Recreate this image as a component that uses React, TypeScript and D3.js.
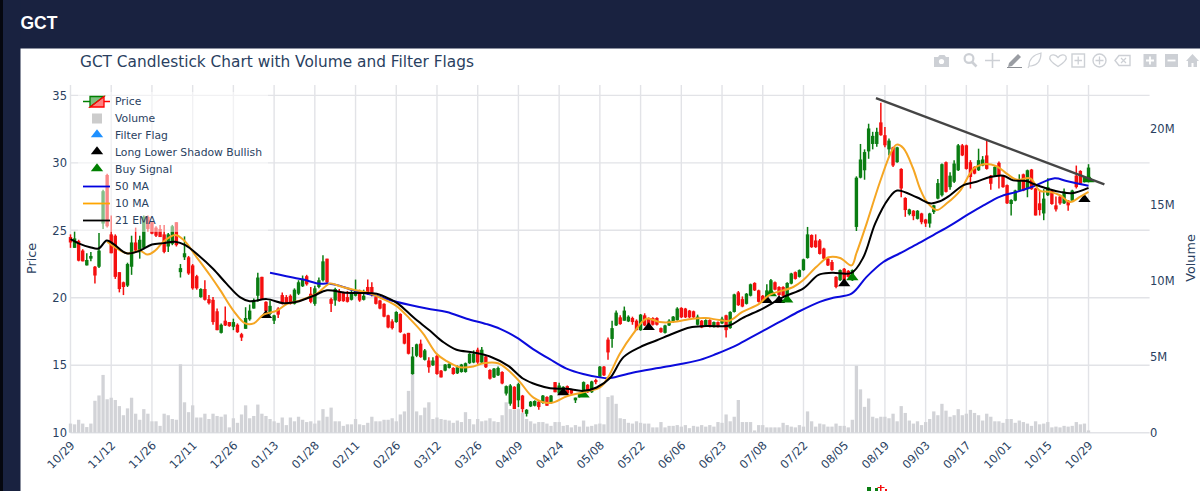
import React, { useEffect, useRef } from 'react';
import * as d3 from 'd3';

const width = 1200;
const height = 491;
const fontFamily = '"DejaVu Sans", verdana, arial, sans-serif';
const textColor = '#2a3f5f';
const gridColor = '#e2e3e7';

// tick labels, one every 10 sessions
const tickLabels = ['10/29', '11/12', '11/26', '12/11', '12/26', '01/13', '01/28', '02/11', '02/26', '03/12', '03/26', '04/09', '04/24', '05/08', '05/22', '06/06', '06/23', '07/08', '07/22', '08/05', '08/19', '09/03', '09/17', '10/01', '10/15', '10/29'];
const priceTicks = [10, 15, 20, 25, 30, 35];
const volumeTicks = [0, 5, 10, 15, 20];

// session by session
const opens = [
  24.5, 23.7, 24.2, 23.5, 22.4, 22.9, 22.3, 22.3, 25.5, 29.1,
  24.7, 24.6, 21.9, 21.15, 20.9, 22.3, 24.1, 23.5, 23.7, 26,
  25.6, 25.2, 25.1, 24.7, 23.8, 24, 25.6, 21.9, 23, 23,
  22.4, 21.6, 20.05, 20.65, 19.9, 19.85, 19, 17.4, 18.3, 18.2,
  17.85, 18, 17.3, 17.7, 18.4, 19.2, 20.15, 21.55, 19.7, 18.8,
  18.3, 19.2, 20.2, 20.05, 20.15, 19.55, 20.3, 20.85, 21.6, 20.3,
  19.55, 20.8, 21.3, 22.9, 19.9, 19.8, 20.5, 20.4, 20.05, 19.85,
  20.15, 20.3, 19.85, 20.8, 20.8, 20.05, 19.8, 19.55, 18.7, 18.25,
  18.2, 18.8, 17.3, 17.4, 14.35, 15.7, 16.6, 15.4, 15.35, 15,
  15.7, 14.6, 14.6, 14.8, 14.8, 14.4, 14.5, 14.5, 15.15, 15.2,
  16.15, 15.2, 15.65, 14.65, 14.1, 14.25, 14.5, 12.9, 12.15, 13.4,
  12.4, 12.75, 11.4, 11.95, 12, 12.3, 12.2, 12.65, 12.2, 13.75,
  12.9, 12.85, 13.45, 13.2, 12.4, 12.65, 12.75, 13.55, 13, 13.9,
  14.15, 14.9, 16.9, 16.95, 17.95, 18.55, 18.3, 18.25, 18.5, 18.3,
  17.6, 18.7, 18.5, 18.5, 18.5, 17.75, 17.4, 17.95, 18.2, 18.35,
  19.25, 19.2, 19.05, 19, 18, 18.3, 17.95, 18.35, 17.85, 18.2,
  18.1, 18.7, 17.75, 18.95, 20.4, 19.9, 19.55, 20.15, 21.1, 20.55,
  20.15, 20.05, 20.4, 21.15, 20.8, 20.8, 19.9, 21.05, 21.9, 21.55,
  22.05, 22.95, 24.65, 24.25, 24.25, 23.65, 22.9, 22.65, 21.55, 21.3,
  22.15, 22, 21.3, 25.25, 28.9, 29.45, 30.85, 31.4, 31.4, 33,
  32.05, 31, 31.15, 30.05, 29.55, 27.4, 26.2, 26.45, 25.85, 26.25,
  25.8, 25.5, 26.35, 27.35, 27.6, 30.05, 28.2, 28.6, 29.45, 31.3,
  31.3, 30.05, 29.7, 29.45, 29.8, 30.55, 29.05, 29.05, 30, 29.05,
  28.35, 26.95, 27.2, 27.95, 29.15, 28.05, 29.5, 28.1, 27, 26.25,
  27.6, 27.95, 26.85, 27.5, 27, 27.2, 27.2, 29.05, 29.4, 28.6, 28.6,
];
const closes = [
  24.1, 24.4, 22.75, 22.7, 22.8, 23.1, 21.65, 23.5, 27.9, 25.3,
  23.3, 21.55, 20.65, 20.8, 22.5, 24.1, 23.5, 24.3, 26, 25.1,
  24.75, 24.6, 24.5, 23.4, 24.7, 25.3, 23.9, 22.2, 23.3, 21.8,
  20.7, 20.7, 20.65, 19.85, 19.6, 18.2, 17.6, 18, 17.95, 17.9,
  18.2, 17.45, 17.05, 18.5, 19.05, 19.7, 21.5, 19.9, 19, 19.4,
  18.7, 18.75, 19.55, 19.55, 19.55, 20.6, 21.15, 21.4, 21, 19.7,
  20.7, 21.3, 22.7, 21.15, 19.55, 20.65, 19.75, 19.75, 19.7, 20.4,
  20.55, 19.8, 20.15, 20.3, 20.4, 19.55, 19.2, 18.6, 17.8, 17.75,
  18.95, 17.45, 16.6, 15.85, 15.65, 16.55, 15.6, 16.1, 14.85, 15.35,
  14.35, 14.1, 15.05, 15.1, 14.35, 14.85, 15.05, 15.15, 15.85, 15.85,
  15.2, 16.15, 14.85, 14, 14.75, 14.8, 13.65, 13.45, 13.5, 11.75,
  13.6, 11.75, 11.7, 12.3, 12.35, 11.9, 12.75, 12, 12.75, 13,
  13.5, 13.4, 12.9, 12.9, 12.6, 12.9, 13.75, 13, 13.8, 13.75,
  14.9, 14.25, 15.95, 17.75, 18.9, 18.05, 19.05, 18.6, 18.2, 17.6,
  18.75, 17.95, 18, 18, 18, 17.45, 17.95, 18.3, 18.6, 19.2,
  18.55, 18.55, 18.55, 18.55, 18.6, 17.8, 18.35, 17.85, 18.2, 17.85,
  18.45, 17.6, 18.95, 20.25, 19.45, 19.35, 20.3, 21, 20.55, 19.7,
  19.7, 20.55, 21.3, 20.6, 20.2, 20.15, 21.1, 21.8, 21.4, 22.05,
  22.85, 24.7, 23.75, 23.75, 23.25, 22.9, 22.4, 22.05, 20.8, 22.05,
  21.3, 21.55, 22.05, 28.9, 30.25, 30.8, 32.55, 32, 32.3, 32.05,
  31.3, 31.65, 29.8, 31.15, 28.1, 26.5, 26.55, 26.05, 26.45, 25.6,
  25.5, 26.25, 26.85, 28.5, 29.9, 27.85, 29.05, 29.95, 31.3, 30.55,
  29.55, 28.95, 29.2, 30.2, 30.25, 29.55, 28.45, 29.7, 29.05, 28.2,
  27, 27.25, 27.95, 28.65, 27.95, 29.45, 28.05, 26.1, 26.5, 27.35,
  28.2, 26.95, 26.55, 27, 27.85, 26.85, 27.95, 28.2, 28.45, 28.95, 29.65,
];
const highs = [
  24.7, 24.9, 24.3, 23.6, 23.3, 23.4, 22.35, 24.8, 28, 29.2,
  26.1, 24.7, 21.9, 21.2, 22.6, 24.6, 25.2, 24.6, 26.1, 26.1,
  25.65, 25.3, 25.4, 25.4, 24.8, 25.4, 25.6, 22.5, 24.55, 23.1,
  22.5, 21.7, 20.7, 21.3, 20.2, 20.05, 19.2, 18.1, 19.35, 18.2,
  18.45, 18.1, 17.4, 19.3, 19.5, 19.95, 21.85, 21.55, 19.75, 19.8,
  18.75, 19.3, 20.4, 20.2, 20.25, 20.7, 21.3, 21.65, 21.7, 20.8,
  20.9, 21.5, 23.15, 22.9, 20, 20.75, 20.65, 20.45, 20.5, 20.6,
  21.35, 20.6, 20.6, 21.35, 21.15, 20.1, 19.85, 19.6, 18.75, 18.4,
  19, 18.85, 17.35, 17.4, 16.35, 16.6, 16.9, 16.2, 15.6, 15.6,
  15.75, 14.65, 15.1, 15.15, 14.85, 15, 15.1, 15.2, 15.9, 16.1,
  16.3, 16.35, 15.7, 14.7, 14.8, 14.9, 14.55, 13.5, 13.6, 13.45,
  13.7, 12.8, 11.75, 12.35, 12.4, 12.4, 12.8, 12.7, 12.8, 13.75,
  13.7, 13.45, 13.5, 13.25, 12.6, 12.95, 13.8, 13.6, 13.85, 14,
  14.95, 14.95, 17.05, 18.3, 19.05, 18.7, 19.35, 18.7, 18.6, 18.4,
  18.8, 18.85, 18.55, 18.55, 18.55, 17.8, 18, 18.4, 18.65, 19.3,
  19.3, 19.25, 19.1, 19.05, 18.75, 18.35, 18.4, 18.4, 18.25, 18.25,
  18.6, 18.75, 19, 20.3, 20.5, 20.1, 20.35, 21.05, 21.15, 20.6,
  20.2, 21, 21.4, 21.2, 20.85, 20.85, 21.15, 21.85, 21.95, 22.1,
  22.9, 25.25, 24.7, 24.7, 24.35, 23.7, 23, 22.8, 21.6, 22.1,
  22.2, 22.05, 22.1, 29, 31.4, 31, 32.9, 32.3, 32.6, 34.45,
  32.65, 31.8, 31.2, 31.2, 29.6, 27.45, 26.6, 26.5, 26.5, 26.3,
  25.85, 26.3, 26.9, 28.8, 29.95, 30.1, 29.3, 30.2, 31.4, 31.4,
  31.35, 30.2, 29.75, 31.05, 30.5, 31.7, 29.1, 29.75, 30.1, 29.1,
  28.4, 27.3, 28, 29.15, 29.2, 29.5, 29.55, 28.15, 28, 28.05,
  28.85, 28, 27.5, 27.55, 28.1, 27.25, 28, 29.8, 29.45, 29, 29.9,
];
const lows = [
  23.7, 23.7, 22.7, 22.7, 22.4, 22.7, 21.05, 22.2, 25.1, 25.2,
  23.3, 21.4, 20.4, 20.2, 20.8, 21.7, 23.4, 22.9, 23.6, 24.9,
  24.7, 24.5, 24.5, 23.3, 23.4, 23.9, 23.8, 21.5, 22.8, 21.7,
  20.6, 20.6, 20, 19.8, 19.5, 18, 17.6, 17.35, 17.9, 17.85,
  17.6, 17.4, 16.8, 17.7, 18.3, 19.2, 19.7, 19.9, 18.7, 18.7,
  18.05, 18.5, 19.5, 19.5, 19.5, 19.5, 20.2, 20.8, 20.9, 19.6,
  19.4, 20.7, 21.2, 21.1, 18.95, 19.4, 19.7, 19.7, 19.65, 19.8,
  20.1, 19.7, 19.8, 20.2, 20.1, 19.5, 19.15, 18.55, 17.75, 17.65,
  18.15, 17.4, 16.55, 15.8, 14.3, 15.6, 15.55, 15.35, 14.45, 14.95,
  14.3, 14.1, 14.55, 14.75, 14.3, 14.35, 14.45, 14.45, 15.1, 15.15,
  15.1, 15.15, 14.8, 13.95, 14.05, 14.2, 13.6, 12.75, 12, 11.75,
  11.9, 11.5, 11.2, 11.9, 11.95, 11.7, 12.15, 12, 12.15, 13,
  12.85, 12.8, 12.85, 12.85, 12.2, 12.6, 12.7, 12.95, 12.95, 13.6,
  14.1, 14.2, 15.4, 16.3, 17.9, 18, 18.3, 18.2, 18, 17.6,
  17.55, 17.9, 17.95, 17.95, 17.95, 17.4, 17.35, 17.9, 18.15, 18.3,
  18.5, 18.5, 18.5, 18.5, 17.95, 17.75, 17.9, 17.8, 17.8, 17.8,
  18.05, 17.05, 17.7, 18.9, 19.4, 19.3, 19.5, 20.1, 20.5, 19.65,
  19.65, 20, 20.35, 20.55, 20.15, 20.1, 19.85, 21, 21.35, 21.5,
  22, 22.9, 23.7, 23.7, 23.2, 22.85, 22.35, 22, 20.7, 21.25,
  21.25, 21.5, 21.25, 24.95, 28.85, 28.75, 30.3, 31, 31.2, 32,
  31.15, 30.55, 29.7, 30, 27.45, 26, 26.1, 25.75, 25.8, 25.45,
  25.25, 25.2, 26.2, 27.3, 27.5, 27.8, 28, 28.5, 29.4, 30.5,
  29.5, 28.1, 29.15, 29.4, 29.75, 29.5, 28, 29, 28.1, 28.15,
  26.95, 26.1, 27.15, 27.9, 27.9, 27.45, 28, 26.1, 26.1, 25.75,
  27.55, 26.9, 26.4, 26.9, 26.95, 26.45, 27.15, 28.1, 28.4, 28.55, 28.55,
];
// millions of shares
const volumes = [
  0.6, 0.55, 0.85, 0.6, 0.37, 0.6, 2.1, 2.45, 3.8, 2.2,
  2.3, 2.15, 1.75, 1.15, 1.6, 2.3, 1.25, 0.85, 1.55, 1.25,
  0.75, 0.75, 0.45, 1.25, 1.15, 0.9, 0.85, 4.5, 2, 1.35,
  1.8, 1, 1, 1.25, 0.9, 1.25, 1.1, 1.05, 1.2, 0.35,
  0.95, 0.65, 1.2, 1.8, 0.95, 1.1, 1.85, 1.25, 1.1, 0.9,
  0.75, 0.65, 1, 0.5, 1, 0.75, 1.05, 0.85, 0.7, 0.75,
  0.6, 0.8, 1.55, 1.05, 1.65, 0.75, 0.75, 0.45, 0.55, 0.55,
  0.9, 0.55, 0.5, 0.65, 1.05, 0.75, 0.75, 0.85, 0.85, 0.95,
  0.75, 1.2, 1.4, 2.75, 3.95, 1.4, 1.15, 1.65, 2, 0.9,
  1, 0.9, 0.85, 0.8, 0.65, 0.8, 0.7, 1.35, 0.9, 0.55,
  0.9, 0.75, 0.8, 0.95, 0.75, 0.7, 1.15, 2, 1.55, 1.5,
  1.55, 1.3, 0.9, 0.75, 0.6, 0.7, 0.7, 0.6, 0.45, 0.7,
  0.7, 0.45, 0.5, 0.35, 0.5, 0.4, 0.8, 0.4, 0.45, 0.55,
  0.6, 0.55, 2.35, 2.45, 1.9, 0.95, 0.9, 0.65, 0.6, 0.75,
  0.65, 0.6, 0.6, 0.35, 0.35, 0.7, 0.35, 0.45, 0.45, 0.5,
  0.4, 0.5, 0.3, 0.45, 0.4, 0.5, 0.4, 0.5, 0.4, 0.7,
  0.65, 1.2, 0.75, 1.05, 2.15, 0.7, 0.7, 0.7, 0.15, 0.5,
  0.5, 0.35, 0.35, 0.35, 0.35, 0.65, 0.5, 0.4, 0.35, 0.5,
  0.4, 1.4, 0.75, 0.4, 0.6, 0.55, 0.4, 0.4, 0.6, 0.45,
  0.45, 0.35, 0.85, 4.4, 2.85, 1.7, 2.25, 1.05, 0.95, 1.05,
  1.05, 0.95, 1.25, 0.75, 1.75, 1.3, 0.8, 0.6, 0.75, 0.5,
  0.7, 0.9, 1.4, 1.15, 1.9, 1.45, 1.05, 1.15, 1.55, 1.15,
  1.25, 1.5, 1.3, 1.15, 0.8, 1.25, 1.05, 0.75, 0.75, 0.65,
  0.9, 0.9, 0.65, 0.8, 0.7, 0.6, 0.45, 0.75, 0.55, 0.6,
  0.7, 0.35, 0.4, 0.35, 0.45, 0.4, 0.45, 0.7, 0.55, 0.6, 0.15,
];

// moving averages, read at the session positions where the curve could be seen
const ma50Days = [49, 53, 57.2, 61, 63, 66, 69.5, 75, 80, 87.5, 92.4, 97.3, 102.2, 105.5, 109.6, 113.6, 117.7, 121.8, 125.9, 130, 132.5, 138, 146.4, 154.6, 158.7, 163, 167, 171, 175, 179, 184, 187.3, 191.8, 195.5, 199.6, 203.7, 207.8, 211.9, 216, 220, 224.2, 228.3, 232.4, 236.4, 241.7, 244.6, 250];
const ma50Values = [21.85, 21.6, 21.35, 21.05, 21.05, 20.9, 20.55, 20.15, 19.7, 19.2, 18.95, 18.45, 18.05, 17.7, 17.05, 16.2, 15.45, 14.75, 14.35, 14.1, 14.05, 14.45, 14.9, 15.4, 15.85, 16.4, 17.05, 17.7, 18.35, 19, 19.7, 20, 20.3, 21.55, 22.65, 23.3, 23.95, 24.65, 25.35, 26.1, 26.85, 27.5, 27.85, 28.25, 28.85, 28.65, 28.3];
const ma10Days = [9, 10.9, 13.8, 15.5, 17, 18.9, 20.8, 22.8, 25.7, 27.9, 31, 34.3, 36.8, 40, 42.9, 45, 47.4, 50.7, 53.2, 56.4, 60.5, 63.7, 66.2, 69.5, 72.8, 76.8, 80, 83.3, 86.6, 89.9, 92.4, 95.6, 98.9, 101.4, 105, 108, 110.4, 113.7, 117.8, 121.9, 125.9, 130, 132, 134.9, 138.1, 141.4, 144.7, 147.9, 152.8, 156, 159.3, 161.8, 165, 169.1, 171.6, 177.5, 179.9, 183.2, 186.1, 189, 191.8, 193, 195.5, 198.8, 201.7, 202.9, 204.5, 206.9, 208.6, 210.3, 212.7, 215.2, 218.5, 221.7, 224.2, 227.4, 229.9, 232.4, 235.7, 238, 240.5, 243, 245.5, 248, 250];
const ma10Values = [24.15, 23.75, 23.3, 23.35, 23.5, 23.2, 23.5, 24.15, 24.65, 24.25, 23, 21.65, 20.55, 19.05, 18.1, 18.1, 18.75, 19.05, 19.55, 19.8, 20.3, 21.05, 20.85, 20.6, 20.4, 19.9, 19.4, 18.45, 17.35, 15.85, 15.3, 14.85, 14.9, 15.15, 15.15, 14.5, 13.75, 12.6, 12.2, 12.7, 13, 13.35, 14.1, 15.85, 17.3, 18.45, 18.2, 18.2, 18.45, 18.5, 18.35, 18.3, 18.95, 19.55, 20.2, 20.8, 21.3, 22.3, 23, 22.95, 22.4, 23.3, 25.5, 28.6, 30.9, 31.35, 31.1, 29.6, 28.1, 27.1, 26.5, 27, 27.95, 29.55, 29.9, 29.75, 29.2, 28.75, 28.85, 27.95, 27.85, 27.6, 27.1, 27.5, 27.85];
const ema21Days = [0, 2.3, 4.8, 6.9, 8.9, 10.5, 13.8, 16.7, 20, 22.8, 25.7, 28.2, 31.4, 35, 38.3, 41.6, 44, 48.2, 52.3, 55.6, 59.7, 63, 67, 71.1, 75.2, 78.5, 80.5, 84.2, 88.3, 91.6, 94.8, 98.9, 103, 107.5, 111.2, 114.5, 117.8, 121.9, 125.9, 129.2, 132.5, 135.8, 139.9, 144, 148, 152.1, 156.2, 161.8, 165, 170, 175, 180, 183.7, 187, 191.8, 194.7, 197.6, 200.9, 203, 207.8, 211.1, 213.5, 216, 219.3, 222.5, 225.8, 229.1, 231.5, 234.8, 236.4, 239.7, 243, 245.9, 250];
const ema21Values = [24.35, 24, 23.75, 23.65, 24.25, 24, 23.3, 23.45, 23.95, 24.05, 24.15, 23.9, 23.15, 22.15, 21.05, 20.05, 19.75, 19.9, 19.6, 19.7, 20.15, 20.55, 20.4, 20.35, 20.3, 19.9, 19.55, 18.55, 17.55, 16.7, 16.15, 15.95, 15.65, 14.95, 14, 13.55, 13.3, 13.25, 13.1, 13.35, 14.05, 15.6, 16.35, 16.85, 17.35, 17.8, 17.9, 17.95, 18.5, 19.2, 20.05, 20.7, 21.7, 21.85, 21.85, 23, 25.5, 27.35, 27.95, 27.45, 27, 27.15, 27.6, 28.35, 28.6, 28.95, 29.05, 28.7, 28.65, 28.45, 28.1, 27.85, 27.75, 28.15];

// flags
const shadowDays = [48, 121, 142, 171, 174, 190, 249];
const shadowPrices = [18.7, 12.97, 17.8, 19.8, 19.8, 21.05, 27.3];
const buyDays = [126, 172, 176, 192, 250];
const buyPrices = [12.8, 20.3, 19.85, 21.5, 28.75];

// resistance line drawn by hand on the chart
const trendDays = [197.8, 253.9];
const trendPrices = [34.8, 28.4];

const legendRows = ['Price', 'Volume', 'Filter Flag', 'Long Lower Shadow Bullish', 'Buy Signal', '50 MA', '10 MA', '21 EMA'];

const x = d3.scaleLinear().domain([0, 265]).range([70.5, 1149.6]);
const yPrice = d3.scaleLinear().domain([10, 35.77]).range([432.7, 85]);
const yVolume = d3.scaleLinear().domain([0, 22.87]).range([432.7, 85]);

const drawLine = (svg: any, days: number[], values: number[], color: string, w: number) => {
  const line = d3.line<number>()
    .x((_, i) => x(days[i]))
    .y((d) => yPrice(d))
    .curve(d3.curveCatmullRom.alpha(0.5));
  svg.append('path')
    .attr('d', line(values))
    .attr('fill', 'none')
    .attr('stroke', color)
    .attr('stroke-width', w)
    .attr('stroke-linejoin', 'round');
};

const drawTriangles = (svg: any, days: number[], prices: number[], color: string) => {
  const tri = d3.symbol().type(d3.symbolTriangle).size(50);
  svg.append('g').selectAll('path').data(days).join('path')
    .attr('d', tri)
    .attr('fill', color)
    .attr('transform', (d: number, i: number) => `translate(${x(d)},${yPrice(prices[i])}) scale(1.15,0.85)`);
};

const drawLegend = (svg: any) => {
  const g = svg.append('g');
  g.append('rect').attr('x', 78).attr('y', 92).attr('width', 190).attr('height', 140)
    .attr('fill', '#fff').attr('fill-opacity', 0.5);
  const rowY = (i: number) => 101.5 + i * 17;

  // candle swatch, split into rising and falling halves
  g.append('path').attr('d', 'M83,101.5H90').attr('stroke', 'green').attr('stroke-width', 1.5);
  g.append('path').attr('d', 'M104,101.5H110').attr('stroke', 'red').attr('stroke-width', 1.5);
  g.append('path').attr('d', 'M90,107V96.5H104Z').attr('fill', 'rgba(0,128,0,0.5)').attr('stroke', 'green').attr('stroke-width', 1.3);
  g.append('path').attr('d', 'M90,107H104V96.5Z').attr('fill', 'rgba(255,0,0,0.5)').attr('stroke', 'red').attr('stroke-width', 1.3);

  g.append('rect').attr('x', 92).attr('y', rowY(1) - 5).attr('width', 10).attr('height', 10).attr('fill', '#cccccc');

  const tri = d3.symbol().type(d3.symbolTriangle).size(50);
  [['#1e90ff', 2], ['black', 3], ['green', 4]].forEach(([c, r]) => {
    g.append('path').attr('d', tri).attr('fill', c as string)
      .attr('transform', `translate(97,${rowY(r as number) - 1}) scale(1.15,0.85)`);
  });
  [['#0000e0', 5], ['orange', 6], ['black', 7]].forEach(([c, r]) => {
    const ly = rowY(r as number);
    g.append('path').attr('d', `M83,${ly}H110`).attr('stroke', c as string).attr('stroke-width', 1.8);
  });

  g.selectAll('text').data(legendRows).join('text')
    .attr('x', 115)
    .attr('y', (_: string, i: number) => rowY(i) + 3.7)
    .attr('fill', textColor)
    .attr('font-size', 10.8)
    .attr('font-family', fontFamily)
    .text((d: string) => d);
};

// modebar at the top right, grey and faint
const ModeBar = () => {
  const c = '#cdd0d5';
  return (
    <g fill={c} stroke="none">
      <path d="M934,57h4l1.5,-2h5l1.5,2h3v10h-15z" />
      <circle cx="941.5" cy="61.5" r="2.6" fill="#fff" />
      <circle cx="969" cy="58.5" r="4.4" fill="none" stroke={c} strokeWidth="2.2" />
      <path d="M972,62l4.5,4.5" stroke={c} strokeWidth="2.6" />
      <path d="M985,60.5h15M992.5,53v15" stroke={c} strokeWidth="1.6" />
      <path d="M1009,63l9,-9 3,3 -9,9 -4,1z" fill="#9a9da3" />
      <path d="M1007,67.5h15" stroke="#8a8d93" strokeWidth="1" />
      <path d="M1029,66c0,-6 4,-11 12,-13c0,7 -3,12 -10,13zM1029,66l-1,2" fill="none" stroke={c} strokeWidth="1.2" />
      <path d="M1058,66.5c-8,-5 -9,-8 -8,-10c1.500,-2.500 5.500,-2 8,1c2.500,-3 6.500,-3.500 8,-1c1,2 0,5 -8,10z" fill="none" stroke={c} strokeWidth="1.3" />
      <rect x="1072" y="54" width="12.500" height="13" fill="none" stroke={c} strokeWidth="1.4" />
      <path d="M1078.200,56.500v8M1074.500,60.500h7.500" stroke={c} strokeWidth="1.3" />
      <circle cx="1099.500" cy="60.500" r="6.500" fill="none" stroke={c} strokeWidth="1.4" />
      <path d="M1099.500,56.500v8M1095.500,60.500h8" stroke={c} strokeWidth="1.3" />
      <path d="M1115,60.500l4,-5h11v10h-11z" fill="none" stroke={c} strokeWidth="1.4" />
      <path d="M1121,58l5,5M1126,58l-5,5" stroke={c} strokeWidth="1.2" />
      <rect x="1143.500" y="54" width="13" height="13" />
      <path d="M1150,56.500v8M1146,60.500h8" stroke="#fff" strokeWidth="1.8" />
      <rect x="1165" y="54" width="13" height="13" />
      <path d="M1167.500,60.500h8" stroke="#fff" strokeWidth="1.8" />
      <path d="M1186,61l6.500,-7 6.500,7h-2v6h-3.500v-4h-2v4h-3.500v-6z" />
    </g>
  );
};

const App = () => {
  const ref = useRef<SVGGElement | null>(null);

  useEffect(() => {
    const svg = d3.select(ref.current);
    svg.selectAll('*').remove();

    // grid
    svg.append('g').selectAll('line').data(priceTicks).join('line')
      .attr('x1', x(0)).attr('x2', x(265))
      .attr('y1', (d: number) => yPrice(d)).attr('y2', (d: number) => yPrice(d))
      .attr('stroke', gridColor).attr('stroke-width', 1.4);
    svg.append('g').selectAll('line').data(tickLabels).join('line')
      .attr('x1', (_: string, i: number) => x(i * 10)).attr('x2', (_: string, i: number) => x(i * 10))
      .attr('y1', 85).attr('y2', 432.7)
      .attr('stroke', gridColor).attr('stroke-width', 1.4);

    // volume bars
    svg.append('g').selectAll('rect').data(volumes).join('rect')
      .attr('x', (_: number, i: number) => x(i) - 1.65)
      .attr('width', 3.3)
      .attr('y', (d: number) => yVolume(d))
      .attr('height', (d: number) => yVolume(0) - yVolume(d))
      .attr('fill', '#d2d3d7');

    // candles
    const candles = svg.append('g');
    opens.forEach((o, i) => {
      const c = closes[i];
      const color = c >= o ? '#0a7d12' : '#f50f0f';
      candles.append('line')
        .attr('x1', x(i)).attr('x2', x(i))
        .attr('y1', yPrice(highs[i])).attr('y2', yPrice(lows[i]))
        .attr('stroke', color).attr('stroke-width', 1.5);
      candles.append('rect')
        .attr('x', x(i) - 1.7).attr('width', 3.4)
        .attr('y', yPrice(Math.max(o, c)))
        .attr('height', Math.max(1.5, Math.abs(yPrice(o) - yPrice(c))))
        .attr('fill', color);
    });

    drawTriangles(svg, shadowDays, shadowPrices, 'black');
    drawTriangles(svg, buyDays, buyPrices, 'green');

    drawLine(svg, ma50Days, ma50Values, '#0b0bdc', 2);
    drawLine(svg, ma10Days, ma10Values, '#f5a623', 2);
    drawLine(svg, ema21Days, ema21Values, 'black', 2);

    svg.append('line')
      .attr('x1', x(trendDays[0])).attr('y1', yPrice(trendPrices[0]))
      .attr('x2', x(trendDays[1])).attr('y2', yPrice(trendPrices[1]))
      .attr('stroke', '#454545').attr('stroke-width', 2.4);

    // axes
    const font = (g: any) => g.selectAll('text')
      .attr('fill', textColor).attr('font-size', 11.5).attr('font-family', fontFamily);

    const left = svg.append('g').attr('transform', `translate(70,0)`)
      .call(d3.axisLeft(yPrice).tickValues(priceTicks).tickSize(0).tickPadding(3) as any);
    left.select('.domain').remove();
    font(left);

    const right = svg.append('g').attr('transform', `translate(1149,0)`)
      .call(d3.axisRight(yVolume).tickValues(volumeTicks).tickSize(0).tickPadding(1)
        .tickFormat((d: any) => (d === 0 ? '0' : `${d}M`)) as any);
    right.select('.domain').remove();
    font(right);

    const bottom = svg.append('g').selectAll('text').data(tickLabels).join('text')
      .attr('text-anchor', 'end')
      .attr('transform', (_: string, i: number) => `translate(${x(i * 10) + 5},446) rotate(-45)`)
      .text((d: string) => d);
    bottom.attr('fill', textColor).attr('font-size', 11.5).attr('font-family', fontFamily);

    svg.append('text')
      .attr('transform', 'translate(36,258.5) rotate(-90)')
      .attr('text-anchor', 'middle')
      .attr('fill', textColor).attr('font-size', 12.8).attr('font-family', fontFamily)
      .text('Price');
    svg.append('text')
      .attr('transform', 'translate(1195,258) rotate(-90)')
      .attr('text-anchor', 'middle')
      .attr('fill', textColor).attr('font-size', 12.8).attr('font-family', fontFamily)
      .text('Volume');

    drawLegend(svg);
  }, []);

  return (
    <svg width={width} height={height} style={{ position: 'absolute', left: 0, top: 0, background: '#fff' }}>
      <rect x={0} y={0} width={width} height={48.5} fill="#192240" />
      <rect x={0} y={0} width={20.5} height={height} fill="#192240" />
      <rect x={0} y={0} width={3} height={height} fill="#05070f" />
      <text x={20.5} y={28.5} fill="#fff" fontSize={17.5} fontWeight={700} fontFamily="Liberation Sans, Arial, sans-serif">GCT</text>
      <text x={80} y={66.5} fill={textColor} fontSize={15.35} fontFamily={fontFamily}>GCT Candlestick Chart with Volume and Filter Flags</text>
      <ModeBar />
      <g ref={ref} />
      {/* top of the next chart showing at the bottom edge */}
      <path d="M867,491v-4h4v4zM875,491v-3h3v3z" fill="#0a7d12" />
      <path d="M880,491v-3h-2.500v-1h2.500v-2h1.500v2h3v1h-3v3zM885,491v-2h2v2z" fill="#f50f0f" />
    </svg>
  );
};

export default App;
